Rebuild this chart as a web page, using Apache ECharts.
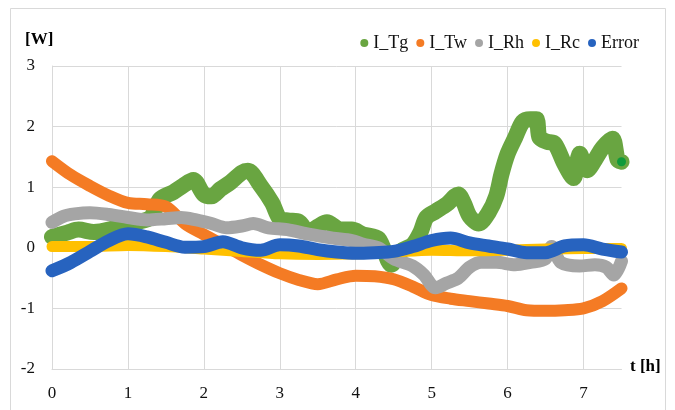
<!DOCTYPE html>
<html>
<head>
<meta charset="utf-8">
<script src="https://cdn.jsdelivr.net/npm/echarts@6/dist/echarts.min.js"></script>
<style>
html,body{margin:0;padding:0;background:#fff;}
#chart{width:675px;height:410px;}
</style>
</head>
<body>
<div id="chart"></div>
<script>
// Time stamps [h] and power contributions [W] per series
const seriesNames = ['I_Tg', 'I_Tw', 'I_Rh', 'I_Rc', 'Error'];
const xTicks = [0, 1, 2, 3, 4, 5, 6, 7];
const yTicks = [-2, -1, 0, 1, 2, 3];

const tTg = [0, 0.2, 0.35, 0.55, 0.75, 0.95, 1.1, 1.3, 1.42, 1.6, 1.72, 1.86, 2.0, 2.1, 2.22, 2.35, 2.5, 2.58, 2.75, 2.9, 3.0, 3.12, 3.25, 3.38, 3.5, 3.62, 3.8, 3.95, 4.1, 4.3, 4.47, 4.6, 4.75, 4.85, 4.93, 5.05, 5.2, 5.35, 5.42, 5.5, 5.62, 5.75, 5.85, 5.92, 6.0, 6.1, 6.2, 6.3, 6.38, 6.42, 6.52, 6.62, 6.75, 6.87, 6.95, 7.05, 7.15, 7.25, 7.38, 7.45, 7.5];
const vTg = [0.18, 0.25, 0.30, 0.26, 0.30, 0.38, 0.42, 0.50, 0.80, 0.92, 1.02, 1.12, 0.88, 0.85, 0.97, 1.08, 1.24, 1.27, 1.02, 0.74, 0.48, 0.45, 0.43, 0.26, 0.35, 0.42, 0.30, 0.30, 0.22, 0.15, -0.28, -0.05, 0.05, 0.25, 0.50, 0.60, 0.72, 0.88, 0.75, 0.52, 0.40, 0.58, 0.85, 1.22, 1.55, 1.82, 2.08, 2.12, 2.12, 1.82, 1.75, 1.72, 1.38, 1.15, 1.55, 1.28, 1.45, 1.65, 1.80, 1.45, 1.42];

const tTw = [0, 0.25, 0.5, 0.75, 1.0, 1.25, 1.5, 1.75, 2.0, 2.25, 2.5, 2.75, 3.0, 3.25, 3.5, 3.75, 4.0, 4.25, 4.5, 4.75, 5.0, 5.25, 5.5, 5.75, 6.0, 6.25, 6.5, 6.75, 7.0, 7.25, 7.5];
const vTw = [1.43, 1.20, 1.02, 0.86, 0.74, 0.72, 0.68, 0.40, 0.22, 0.05, -0.12, -0.28, -0.42, -0.53, -0.60, -0.52, -0.46, -0.47, -0.52, -0.64, -0.78, -0.84, -0.88, -0.92, -0.96, -1.03, -1.04, -1.03, -1.00, -0.88, -0.67];

const tRh = [0, 0.15, 0.3, 0.5, 0.75, 1.0, 1.25, 1.5, 1.7, 1.9, 2.1, 2.3, 2.5, 2.65, 2.85, 3.1, 3.4, 3.7, 3.95, 4.1, 4.3, 4.5, 4.75, 4.9, 5.0, 5.05, 5.2, 5.35, 5.5, 5.65, 5.85, 6.1, 6.3, 6.5, 6.58, 6.7, 6.95, 7.15, 7.3, 7.4, 7.5];
const vRh = [0.42, 0.52, 0.56, 0.58, 0.55, 0.50, 0.46, 0.48, 0.50, 0.46, 0.40, 0.33, 0.36, 0.40, 0.33, 0.30, 0.22, 0.16, 0.12, 0.06, 0.0, -0.18, -0.30, -0.45, -0.62, -0.66, -0.58, -0.50, -0.32, -0.24, -0.24, -0.28, -0.24, -0.18, 0.02, -0.24, -0.30, -0.28, -0.32, -0.45, -0.22];

const tRc = [0, 0.5, 1.0, 1.5, 2.0, 2.5, 3.0, 3.5, 4.0, 4.5, 5.0, 5.5, 6.0, 6.5, 7.0, 7.5];
const vRc = [0.02, 0.02, 0.04, 0.02, -0.02, -0.06, -0.10, -0.11, -0.10, -0.07, -0.04, -0.05, -0.04, -0.02, -0.01, -0.01];

const tErr = [0, 0.25, 0.5, 0.75, 1.0, 1.25, 1.5, 1.75, 2.0, 2.25, 2.5, 2.75, 3.0, 3.25, 3.5, 3.75, 4.0, 4.25, 4.5, 4.75, 5.0, 5.25, 5.5, 5.75, 6.0, 6.25, 6.5, 6.75, 7.0, 7.25, 7.5];
const vErr = [-0.38, -0.24, -0.06, 0.12, 0.23, 0.18, 0.09, 0.01, 0.02, 0.10, 0.0, -0.04, 0.05, 0.03, -0.03, -0.07, -0.09, -0.08, -0.06, 0.02, 0.12, 0.16, 0.08, 0.03, -0.02, -0.08, -0.08, 0.03, 0.05, -0.02, -0.07];

const colors = ['#69a541', '#f47b24', '#a5a5a5', '#ffc000', '#2763bf'];

const pairs = (t, v) => t.map((x, i) => [x, v[i]]);
const seriesData = [pairs(tTg, vTg), pairs(tTw, vTw), pairs(tRh, vRh), pairs(tRc, vRc), pairs(tErr, vErr)];
const widths = [16, 12, 13, 11, 13];

const serif = '"Liberation Serif", "DejaVu Serif", serif';

const chart = echarts.init(document.getElementById('chart'), null, {renderer: 'canvas'});

const series = seriesNames.map((name, i) => ({
  name: name,
  type: 'line',
  data: seriesData[i],
  smooth: 0.3,
  showSymbol: false,
  symbol: 'circle',
  itemStyle: {color: colors[i]},
  lineStyle: {width: widths[i], color: colors[i], cap: 'round', join: 'round'},
  z: 2 + i
}));

// Final I_Tg sample highlighted with a darker dot
const lastTg = seriesData[0][seriesData[0].length - 1];
series[0].markPoint = {
  symbol: 'circle',
  symbolSize: 9,
  silent: true,
  label: {show: false},
  itemStyle: {color: '#0f9a3a'},
  data: [{coord: lastTg}]
};

chart.setOption({
  animation: false,
  backgroundColor: '#fff',
  color: colors,
  graphic: [
    {type: 'rect', shape: {x: 10.5, y: 8.5, width: 655, height: 420}, style: {fill: 'none', stroke: '#d9d9d9', lineWidth: 1}, z: 0},
    {type: 'text', left: 25, top: 31, style: {text: '[W]', font: 'bold 17px ' + serif, fill: '#000'}},
    {type: 'text', left: 630, top: 358, style: {text: 't [h]', font: 'bold 17px ' + serif, fill: '#000'}}
  ],
  legend: {
    right: 36,
    top: 34,
    padding: 0,
    icon: 'circle',
    itemWidth: 8,
    itemHeight: 8,
    itemGap: 8,
    textStyle: {fontFamily: serif, fontSize: 18, color: '#111', padding: [0, 0, 0, 0]},
    data: seriesNames
  },
  grid: {left: 52, right: 53.5, top: 66, bottom: 41, containLabel: false},
  xAxis: {
    type: 'value',
    min: 0,
    max: 7.5,
    interval: 1,
    axisLine: {show: true, onZero: false, lineStyle: {color: '#d9d9d9', width: 1}},
    axisTick: {show: false},
    axisLabel: {
      showMaxLabel: false,
      margin: 16,
      fontFamily: serif, fontSize: 17, color: '#111',
      formatter: v => (xTicks.indexOf(v) >= 0 ? String(v) : '')
    },
    splitLine: {show: true, showMaxLine: false, lineStyle: {color: '#d9d9d9', width: 1}}
  },
  yAxis: {
    type: 'value',
    min: -2,
    max: 3,
    interval: 1,
    axisLine: {show: true, lineStyle: {color: '#d9d9d9', width: 1}},
    axisTick: {show: false},
    axisLabel: {
      margin: 17,
      fontFamily: serif, fontSize: 17, color: '#111',
      formatter: v => (yTicks.indexOf(v) >= 0 ? String(v) : '')
    },
    splitLine: {show: true, lineStyle: {color: '#d9d9d9', width: 1}}
  },
  series: series
});
</script>
</body>
</html>
